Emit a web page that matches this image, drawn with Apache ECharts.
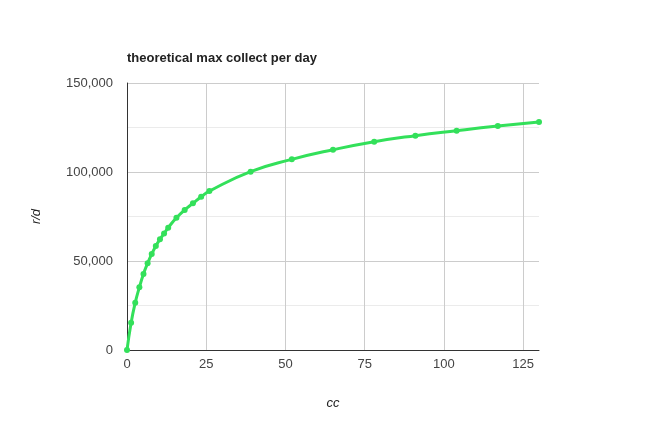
<!DOCTYPE html>
<html><head><meta charset="utf-8">
<script src="https://cdn.jsdelivr.net/npm/echarts@6/dist/echarts.min.js"></script>
<style>html,body{margin:0;padding:0;background:#fff}#c{width:666px;height:433px}</style>
</head><body><div id="c"></div>
<script>
const ccValues = [0,1.3,2.6,3.9,5.2,6.5,7.8,9.1,10.4,11.7,13,15.6,18.2,20.8,23.4,26,39,52,65,78,91,104,117,130];
const rdValues = [0,15300,26600,35200,42700,48700,53900,58400,62200,65500,68700,74300,78700,82400,86100,89300,100200,107100,112500,117000,120400,123200,125800,128100];
const titleText = 'theoretical max collect per day';
const xName = 'cc';
const yName = 'r/d';

const chart = echarts.init(document.getElementById('c'));
const font = 'Arial, "Liberation Sans", sans-serif';
chart.setOption({
  animation: false,
  title: {text: titleText, left: 122, top: 47, textStyle: {fontFamily: font, fontSize: 13, fontWeight: 'bold', color: '#222'}},
  grid: {left: 127, right: 127, top: 83, bottom: 83},
  xAxis: {
    type: 'value', min: 0, max: 130, interval: 25,
    name: xName, nameLocation: 'middle', nameGap: 47,
    nameTextStyle: {fontFamily: font, fontSize: 13, fontStyle: 'italic', color: '#222'},
    axisLine: {show: true, onZero: false, lineStyle: {color: '#333', width: 1}},
    axisTick: {show: false},
    axisLabel: {fontFamily: font, fontSize: 13, color: '#444', margin: 8, showMaxLabel: false},
    splitLine: {show: true, showMaxLine: false, lineStyle: {color: '#ccc', width: 1}}
  },
  yAxis: {
    type: 'value', min: 0, max: 150000, interval: 50000,
    name: yName, nameLocation: 'middle', nameGap: 84, nameRotate: 90,
    nameTextStyle: {fontFamily: font, fontSize: 13, fontStyle: 'italic', color: '#222'},
    axisLine: {show: true, lineStyle: {color: '#333', width: 1}},
    axisTick: {show: false},
    axisLabel: {fontFamily: font, fontSize: 13, color: '#444', margin: 14,
      formatter: v => v.toLocaleString('en-US')},
    splitLine: {show: true, lineStyle: {color: '#ccc', width: 1}},
    minorTick: {show: false, splitNumber: 2},
    minorSplitLine: {show: true, lineStyle: {color: '#ebebeb', width: 1}}
  },
  series: [{
    type: 'line', smooth: true,
    data: ccValues.map((x, i) => [x, rdValues[i]]),
    lineStyle: {color: '#33e05a', width: 3},
    itemStyle: {color: '#33e05a'},
    symbol: 'circle', symbolSize: 6, showSymbol: true
  }]
});
</script></body></html>
